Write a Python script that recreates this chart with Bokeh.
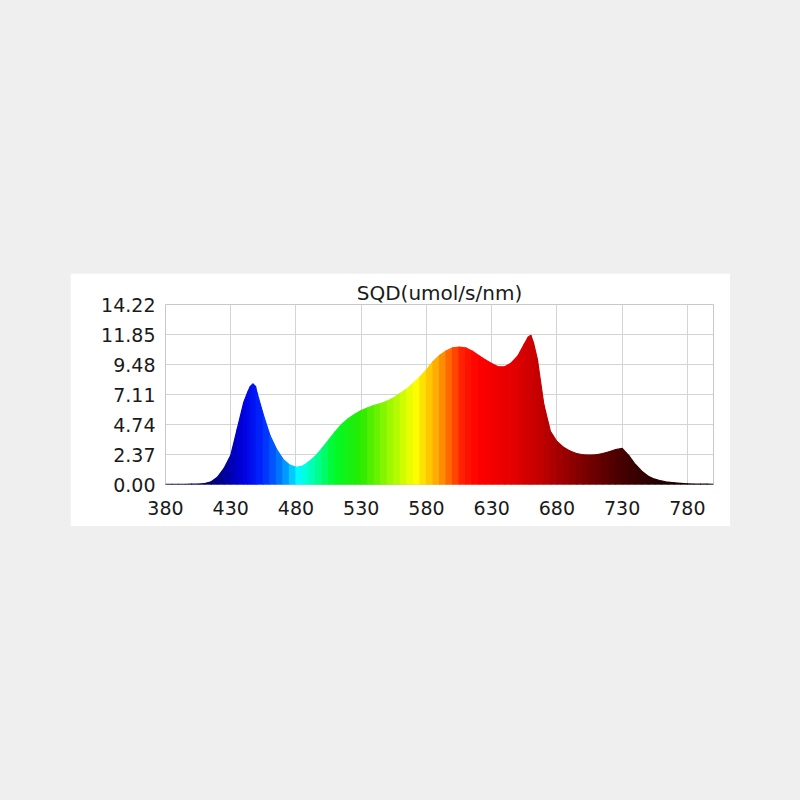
import numpy as np
from bokeh.plotting import figure
from bokeh.models import FixedTicker, PrintfTickFormatter, Range1d, GlobalInlineStyleSheet
from bokeh.embed import file_html
from bokeh.resources import INLINE

# spectrum (nm, umol/s/nm)
wavelength = [380, 385, 390, 395, 400, 405, 410, 415, 420, 425, 430, 435, 440, 443, 445, 447,
              449, 450, 455, 460, 465, 470, 475, 480, 485, 490, 495, 500, 505, 510, 515, 520,
              525, 530, 535, 540, 545, 550, 555, 560, 565, 570, 575, 580, 585, 590, 595,
              600, 605, 610, 615, 620, 625, 630, 635, 640, 645, 650, 655, 658, 660, 662, 665, 670,
              675, 680, 685, 690, 695, 700, 705, 710, 715, 720, 725, 730, 735, 740, 745,
              750, 755, 760, 765, 770, 775, 780, 785, 790, 795, 800]
sqd = [0.02, 0.02, 0.02, 0.02, 0.03, 0.04, 0.08, 0.22, 0.6, 1.3, 2.3, 4.4, 6.5, 7.3, 7.75, 7.95,
       7.75, 7.3, 5.5, 3.9, 2.8, 2.0, 1.55, 1.35, 1.45, 1.8, 2.25, 2.85, 3.5, 4.15, 4.75, 5.2,
       5.55, 5.85, 6.05, 6.25, 6.4, 6.6, 6.85, 7.2, 7.55, 8.0, 8.5, 9.05, 9.7, 10.2, 10.55,
       10.8, 10.85, 10.8, 10.55, 10.2, 9.85, 9.55, 9.3, 9.3, 9.6, 10.15, 11.1, 11.65, 11.8, 11.2, 9.9, 6.3,
       4.2, 3.4, 2.95, 2.65, 2.45, 2.35, 2.33, 2.35, 2.45, 2.58, 2.75, 2.85, 2.3, 1.6, 1.05,
       0.65, 0.42, 0.28, 0.18, 0.13, 0.09, 0.06, 0.04, 0.03, 0.03, 0.02]

x_ticks = [380, 430, 480, 530, 580, 630, 680, 730, 780]
y_ticks = [0.0, 2.37, 4.74, 7.11, 9.48, 11.85, 14.22]
title_text = "SQD(umol/s/nm)"

# colour of the fill by wavelength
stop_nm = [380, 410, 425, 440, 455, 470, 483, 495, 510, 530, 555, 572, 590, 608, 620, 645, 670, 700, 730, 760, 800]
stop_rgb = [(25, 0, 55), (10, 0, 90), (0, 0, 150), (0, 0, 225), (0, 40, 255), (0, 130, 255),
            (0, 255, 255), (0, 255, 160), (0, 250, 40), (40, 235, 0), (170, 250, 0), (255, 255, 0),
            (255, 160, 0), (255, 30, 0), (255, 0, 0), (230, 0, 0), (190, 0, 0), (125, 0, 0),
            (70, 0, 0), (35, 0, 0), (20, 0, 0)]


def spectrum_colour(nm):
    r = np.interp(nm, stop_nm, [c[0] for c in stop_rgb])
    g = np.interp(nm, stop_nm, [c[1] for c in stop_rgb])
    b = np.interp(nm, stop_nm, [c[2] for c in stop_rgb])
    return "#%02x%02x%02x" % (int(r), int(g), int(b))


xs, ys, colours = [], [], []
for i in range(len(wavelength) - 1):
    x0, x1 = wavelength[i], wavelength[i + 1]
    xs.append([x0, x1, x1, x0])
    ys.append([0, 0, sqd[i + 1], sqd[i]])
    colours.append(spectrum_colour((x0 + x1) / 2))

p = figure(width=660, height=253, output_backend="svg", toolbar_location=None,
           x_range=Range1d(380, 800), y_range=Range1d(0, 14.22),
           min_border_left=95, min_border_right=17, min_border_top=31, min_border_bottom=42,
           title=title_text)
p.margin = (273, 0, 0, 70)
p.stylesheets = [GlobalInlineStyleSheet(css="body { background: #efefef; }")]
p.background_fill_color = "white"
p.border_fill_color = "white"
p.outline_line_color = "#c8c8c8"

p.title.align = "center"
p.title.text_font = "DejaVu Sans"
p.title.text_font_size = "20px"
p.title.text_font_style = "normal"
p.title.text_color = "#1a1a1a"
p.title.standoff = 0

p.patches(xs, ys, fill_color=colours, line_color=colours, line_width=1.2)

for ax in (p.xaxis, p.yaxis):
    ax.axis_line_color = None
    ax.major_tick_line_color = None
    ax.minor_tick_line_color = None
    ax.major_tick_out = 0
    ax.major_tick_in = 0
    ax.major_label_text_font = "DejaVu Sans"
    ax.major_label_text_font_size = "19px"
    ax.major_label_text_color = "#1a1a1a"

p.xaxis.ticker = FixedTicker(ticks=x_ticks)
p.yaxis.ticker = FixedTicker(ticks=y_ticks)
p.yaxis.formatter = PrintfTickFormatter(format="%.2f")
p.xaxis.major_label_standoff = 16
p.yaxis.major_label_standoff = 10

p.xgrid.ticker = FixedTicker(ticks=x_ticks)
p.ygrid.ticker = FixedTicker(ticks=y_ticks)
p.grid.grid_line_color = "#d4d4d4"
p.grid.grid_line_width = 1

open("out.html", "w").write(file_html(p, INLINE))
